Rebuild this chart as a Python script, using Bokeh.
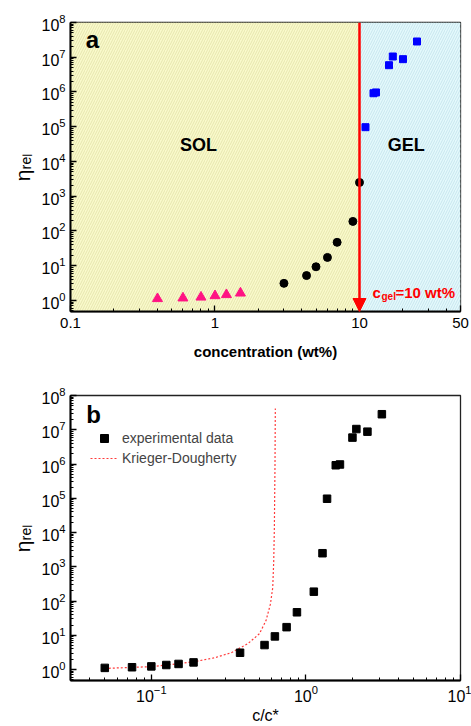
from bokeh.plotting import figure
from bokeh.layouts import column
from bokeh.models import (FixedTicker, Arrow, NormalHead, Legend, LegendItem,
                          Range1d, NumeralTickFormatter, LogTickFormatter)
from bokeh.core.properties import value
from bokeh.embed import file_html
from bokeh.resources import INLINE

# ---------------- data ----------------
# panel a: relative viscosity vs concentration (wt%)
low_conc = [0.4, 0.6, 0.8, 1.0, 1.2, 1.5]
low_eta = [1.12, 1.17, 1.24, 1.36, 1.46, 1.62]
mid_conc = [3.0, 4.3, 5.0, 6.0, 7.0, 9.0, 10.0]
mid_eta = [3.1, 5.2, 9.3, 17.3, 47.0, 188.0, 2490.0]
gel_conc = [11.0, 12.5, 13.0, 16.0, 17.0, 20.0, 25.0]
gel_eta = [9.7e4, 9.2e5, 9.7e5, 5.9e6, 1.05e7, 8.8e6, 2.84e7]
c_gel = 10.0

# panel b: relative viscosity vs reduced concentration c/c*
exp_cc = [0.05, 0.075, 0.1, 0.125, 0.15, 0.1875, 0.375, 0.54, 0.63, 0.75,
          0.875, 1.125, 1.28, 1.37, 1.56, 1.66, 2.0, 2.12, 2.5, 3.1]
exp_eta = [1.12, 1.17, 1.24, 1.36, 1.46, 1.62, 3.1, 5.2, 9.3, 17.3,
           47.0, 188.0, 2490.0, 9.7e4, 9.2e5, 9.7e5, 5.9e6, 1.05e7, 8.8e6, 2.84e7]
kd_cc = [0.05, 0.1, 0.156, 0.19, 0.256, 0.328, 0.421, 0.5, 0.552, 0.589,
         0.61, 0.619, 0.625, 0.631, 0.634]
kd_eta = [1.08, 1.22, 1.52, 1.70, 2.21, 3.09, 5.7, 11.1, 26.9, 81.0,
          245.0, 1435.0, 1.3e4, 9.7e5, 4.2e7]

# tick labels / ranges
x_a_ticks = [0.1, 1, 10, 50]
x_a_minor = [m * 10 ** k for k in (-1, 0) for m in range(2, 10)] + [20, 30, 40]
y_ticks = [10 ** k for k in range(0, 9)]
y_minor = [m * 10 ** k for k in range(-1, 8) for m in range(2, 10)]
x_b_ticks = [0.1, 1, 10]
x_b_minor = [m * 10 ** k for k in (-2, -1, 0) for m in range(2, 10)]

Y_LO, Y_HI = 0.48, 1e8
FONT = "Liberation Sans"


def style_axes(p):
    p.xgrid.visible = False
    p.ygrid.visible = False
    p.outline_line_color = "#222222"
    p.outline_line_width = 1.3
    p.background_fill_color = "white"
    p.border_fill_color = "white"
    for ax in (p.xaxis[0], p.yaxis[0]):
        ax.axis_line_width = 2
        ax.axis_line_color = "black"
        ax.major_tick_in = 6
        ax.major_tick_out = 0
        ax.minor_tick_in = 3
        ax.minor_tick_out = 0
        ax.major_tick_line_width = 1.3
        ax.minor_tick_line_width = 1
        ax.major_label_text_font = FONT
        ax.major_label_text_font_size = "16px"
        ax.major_label_text_color = "black"
        ax.axis_label_text_font = FONT
        ax.axis_label_text_color = "black"
    p.yaxis[0].ticker = FixedTicker(ticks=y_ticks, minor_ticks=y_minor)
    p.yaxis[0].formatter = LogTickFormatter()
    p.yaxis[0].major_label_standoff = 5
    p.yaxis[0].axis_label = "ηᵣₑₗ"
    p.yaxis[0].axis_label_text_font_size = "21px"
    p.yaxis[0].axis_label_text_font_style = "normal"
    p.yaxis[0].axis_label_standoff = 4


# ---------------- panel a ----------------
p1 = figure(width=471, height=370, x_axis_type="log", y_axis_type="log",
            x_range=Range1d(0.1, 50), y_range=Range1d(Y_LO, Y_HI),
            output_backend="svg", toolbar_location=None,
            min_border_left=70, min_border_right=11, min_border_top=22,
            min_border_bottom=59)
style_axes(p1)

p1.quad(left=[0.1], right=[c_gel], bottom=[Y_LO], top=[Y_HI],
        fill_color="#FAFACC", line_color=None,
        hatch_pattern="/", hatch_color="#E6E6AE", hatch_scale=5,
        hatch_weight=1.0)
p1.quad(left=[c_gel], right=[50], bottom=[Y_LO], top=[Y_HI],
        fill_color="#E4F9FC", line_color=None,
        hatch_pattern="/", hatch_color="#C8E6EE", hatch_scale=5,
        hatch_weight=1.0)

p1.xaxis[0].ticker = FixedTicker(ticks=x_a_ticks, minor_ticks=x_a_minor)
p1.xaxis[0].formatter = NumeralTickFormatter(format="0.[0]")
p1.xaxis[0].major_label_text_font_size = "15px"
p1.xaxis[0].major_label_standoff = 6
p1.xaxis[0].axis_label = "concentration (wt%)"
p1.xaxis[0].axis_label_text_font_size = "15px"
p1.xaxis[0].axis_label_text_font_style = "bold"
p1.xaxis[0].axis_label_standoff = 12

p1.add_layout(Arrow(x_start=c_gel, y_start=Y_HI, x_end=c_gel, y_end=Y_LO,
                    line_color="#FF0000", line_width=2.5,
                    end=NormalHead(size=13, fill_color="#FF0000",
                                   line_color="#FF0000")))

p1.scatter(low_conc, low_eta, marker="triangle", size=10,
           fill_color="#FF1383", line_color="#FF1383")
p1.scatter(mid_conc, mid_eta, marker="circle", size=8,
           fill_color="black", line_color="black")
p1.scatter(gel_conc, gel_eta, marker="square", size=7,
           fill_color="#0000FF", line_color="#0000FF")

p1.text(x=[0.142], y=[3.2e7], text=["a"], text_font=value(FONT),
        text_font_size="24px", text_font_style="bold", text_align="center",
        text_baseline="middle", text_color="black")
p1.text(x=[0.77, 21.1], y=[2.9e4, 2.9e4], text=["SOL", "GEL"],
        text_font=value(FONT), text_font_size="18px", text_font_style="bold",
        text_align="center", text_baseline="middle", text_color="black")
p1.text(x=[12.3], y=[1.7], text=["c"], text_font=value(FONT),
        text_font_size="15px", text_font_style="bold", text_align="left",
        text_baseline="alphabetic", text_color="#FF0000")
p1.text(x=[12.3], y=[1.7], text=["gel"], x_offset=9, y_offset=4,
        text_font=value(FONT), text_font_size="10px", text_font_style="bold",
        text_align="left", text_baseline="alphabetic", text_color="#FF0000")
p1.text(x=[12.3], y=[1.7], text=["=10 wt%"], x_offset=23,
        text_font=value(FONT), text_font_size="15px", text_font_style="bold",
        text_align="left", text_baseline="alphabetic", text_color="#FF0000")

# ---------------- panel b ----------------
p2 = figure(width=471, height=356, x_axis_type="log", y_axis_type="log",
            x_range=Range1d(0.03, 10), y_range=Range1d(Y_LO, Y_HI),
            output_backend="svg", toolbar_location=None,
            min_border_left=70, min_border_right=11, min_border_top=25,
            min_border_bottom=42)
style_axes(p2)

p2.xaxis[0].ticker = FixedTicker(ticks=x_b_ticks, minor_ticks=x_b_minor)
p2.xaxis[0].formatter = LogTickFormatter()
p2.xaxis[0].major_label_standoff = 4
p2.xaxis[0].axis_label = "c/c*"
p2.xaxis[0].axis_label_text_font_size = "16px"
p2.xaxis[0].axis_label_text_font_style = "normal"
p2.xaxis[0].axis_label_standoff = 2

kd = p2.line(kd_cc, kd_eta, line_color="#FF3B3B", line_width=1.2,
             line_dash="2 2")
ex = p2.scatter(exp_cc, exp_eta, marker="square", size=7.5,
                fill_color="black", line_color="black")

p2.text(x=[0.0423], y=[2.8e7], text=["b"], text_font=value(FONT),
        text_font_size="24px", text_font_style="bold", text_align="center",
        text_baseline="middle", text_color="black")

legend = Legend(items=[LegendItem(label="experimental data", renderers=[ex]),
                       LegendItem(label="Krieger-Dougherty", renderers=[kd])],
                location=(20, 212), border_line_color=None,
                background_fill_alpha=0, label_text_font=FONT,
                label_text_font_size="14px", glyph_width=28, glyph_height=20,
                label_height=20, spacing=0, padding=0, margin=0,
                label_standoff=4)
p2.add_layout(legend)

layout = column(p1, p2, spacing=0)
open("out.html", "w").write(file_html(layout, INLINE))
